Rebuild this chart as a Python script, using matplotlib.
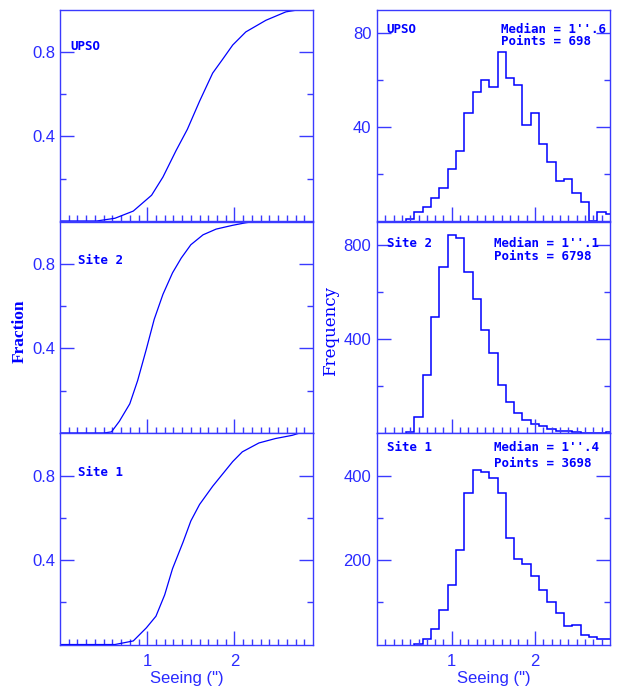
import numpy as np
import matplotlib
matplotlib.use('Agg')
from matplotlib import pyplot as plt
from matplotlib.ticker import FixedLocator, NullFormatter

# histogram bin centres (arcsec)
bins_upso = [0.5, 0.6, 0.7, 0.8, 0.9, 1.0, 1.1, 1.2, 1.3, 1.4, 1.5, 1.6, 1.7,
             1.8, 1.9, 2.0, 2.1, 2.2, 2.3, 2.4, 2.5, 2.6, 2.7, 2.8, 2.9]
bins_site2 = [0.5, 0.6, 0.7, 0.8, 0.9, 1.0, 1.1, 1.2, 1.3, 1.4, 1.5, 1.6, 1.7,
              1.8, 1.9, 2.0, 2.1, 2.2, 2.3, 2.4, 2.5, 2.6, 2.7, 2.8, 2.9]
bins_site1 = [0.6, 0.7, 0.8, 0.9, 1.0, 1.1, 1.2, 1.3, 1.4, 1.5, 1.6, 1.7,
              1.8, 1.9, 2.0, 2.1, 2.2, 2.3, 2.4, 2.5, 2.6, 2.7, 2.8, 2.9]

freq_upso = [1, 4, 6, 10, 14, 22, 30, 46, 55, 60, 57, 72, 61,
             58, 41, 46, 33, 25, 17, 18, 12, 8, 0, 4, 3]
freq_site2 = [3, 67, 248, 496, 709, 844, 830, 687, 572, 440, 339, 203, 130,
              84, 57, 38, 30, 16, 7, 7, 3, 1, 1, 0, 3]
freq_site1 = [2, 12, 37, 81, 140, 224, 359, 413, 408, 395, 359, 251,
              202, 191, 163, 130, 100, 75, 45, 47, 22, 17, 12, 13]

# cumulative fraction curves
cdf_upso_x = [0.0, 0.42, 0.63, 0.84, 1.05, 1.18, 1.33, 1.46, 1.60, 1.75, 1.86,
              1.98, 2.13, 2.36, 2.59, 2.74, 2.9]
cdf_upso_y = [0.0, 0.0, 0.013, 0.047, 0.122, 0.208, 0.333, 0.434, 0.567, 0.70,
              0.763, 0.833, 0.895, 0.95, 0.99, 1.0, 1.0]
cdf_site2_x = [0.0, 0.5, 0.59, 0.68, 0.80, 0.89, 0.99, 1.08, 1.18, 1.29, 1.39,
               1.50, 1.64, 1.79, 1.98, 2.13, 2.21, 2.9]
cdf_site2_y = [0.0, 0.0, 0.005, 0.055, 0.138, 0.248, 0.397, 0.538, 0.656, 0.758,
               0.828, 0.891, 0.938, 0.965, 0.983, 0.995, 1.0, 1.0]
cdf_site1_x = [0.0, 0.63, 0.84, 0.99, 1.10, 1.20, 1.29, 1.41, 1.50, 1.60, 1.75,
               1.98, 2.09, 2.28, 2.47, 2.66, 2.74, 2.9]
cdf_site1_y = [0.0, 0.0, 0.017, 0.079, 0.134, 0.235, 0.359, 0.484, 0.585, 0.663,
               0.749, 0.866, 0.912, 0.954, 0.975, 0.99, 1.0, 1.0]

sites = ['UPSO', 'Site 2', 'Site 1']
medians = ["1''.6", "1''.1", "1''.4"]
points = [698, 6798, 3698]

BLUE = '#0000ff'
AXC = '#3a3aff'

plt.rcParams['font.family'] = ['Liberation Sans', 'DejaVu Sans']

fig = plt.figure(figsize=(6.21, 6.9), dpi=100)

# panel rectangles in figure fraction (top, middle, bottom)
bottoms = [0.6797, 0.3725, 0.0659]
height = 0.3062
left_l, width_l = 0.0966, 0.4074
left_r, width_r = 0.607, 0.375


def style(ax, xmin, xmax, ymajor, yminor, show_x):
    for s in ax.spines.values():
        s.set_color(AXC)
        s.set_linewidth(1.0)
    ax.set_xlim(xmin, xmax)
    ax.xaxis.set_major_locator(FixedLocator([1, 2]))
    ax.xaxis.set_minor_locator(FixedLocator(np.arange(xmin + 0.1, xmax - 0.05, 0.1)))
    ax.yaxis.set_major_locator(FixedLocator(ymajor))
    ax.yaxis.set_minor_locator(FixedLocator(yminor))
    ax.tick_params(axis='both', which='both', direction='in', color=AXC,
                   labelcolor='#2a2aff', labelsize=12, width=1.0)
    ax.tick_params(axis='x', which='major', length=10, top=False, pad=7)
    ax.tick_params(axis='x', which='minor', length=4, top=False)
    ax.tick_params(axis='y', which='major', length=10, right=True)
    ax.tick_params(axis='y', which='minor', length=4, right=True)
    if not show_x:
        ax.xaxis.set_major_formatter(NullFormatter())


cdfs = [(cdf_upso_x, cdf_upso_y), (cdf_site2_x, cdf_site2_y), (cdf_site1_x, cdf_site1_y)]
hists = [(bins_upso, freq_upso, 90, [40, 80], [20, 60]),
         (bins_site2, freq_site2, 900, [400, 800], [200, 600]),
         (bins_site1, freq_site1, 500, [200, 400], [100, 300])]

label_font = dict(family='DejaVu Sans Mono', weight='bold', size=9, color=BLUE)
left_lab_x = [0.043, 0.07, 0.07]
left_lab_y = [0.81, 0.80, 0.80]
right_lab_y = [0.89, 0.88, 0.918]
med_x = [0.532, 0.503, 0.503]
pts_dy = [0.055, 0.062, 0.078]

for i in range(3):
    # cumulative fraction
    ax = fig.add_axes([left_l, bottoms[i], width_l, height])
    ax.plot(cdfs[i][0], cdfs[i][1], color=BLUE, lw=0.9)
    ax.set_ylim(0, 1.0)
    style(ax, 0.0, 2.9, [0.4, 0.8], [0.2, 0.6], i == 2)
    ax.text(left_lab_x[i], left_lab_y[i], sites[i], transform=ax.transAxes, **label_font)
    if i == 2:
        ax.set_xlabel('Seeing (")', color='#2a2aff', fontsize=12, labelpad=1)

    # histogram
    ax2 = fig.add_axes([left_r, bottoms[i], width_r, height])
    centres, counts, ytop, ymaj, ymin = hists[i]
    edges = np.append(np.array(centres) - 0.05, centres[-1] + 0.05)
    ax2.stairs(counts, edges, color=BLUE, lw=1.1, baseline=0)
    ax2.set_ylim(0, ytop)
    style(ax2, 0.1, 2.9, ymaj, ymin, i == 2)
    ax2.tick_params(axis='y', which='major', pad=4)
    ax2.text(0.042, right_lab_y[i], sites[i], transform=ax2.transAxes, **label_font)
    ax2.text(med_x[i], right_lab_y[i], 'Median = ' + medians[i],
             transform=ax2.transAxes, **label_font)
    ax2.text(med_x[i], right_lab_y[i] - pts_dy[i], 'Points = %d' % points[i],
             transform=ax2.transAxes, **label_font)
    if i == 2:
        ax2.set_xlabel('Seeing (")', color='#2a2aff', fontsize=12, labelpad=1)

fig.text(0.031, 0.52, 'Fraction', rotation=90, ha='center', va='center',
         color=BLUE, fontsize=12.5, family='Liberation Serif', weight='bold')
fig.text(0.533, 0.52, 'Frequency', rotation=90, ha='center', va='center',
         color=BLUE, fontsize=12, family='DejaVu Serif')

fig.savefig('out.png', dpi=100)
